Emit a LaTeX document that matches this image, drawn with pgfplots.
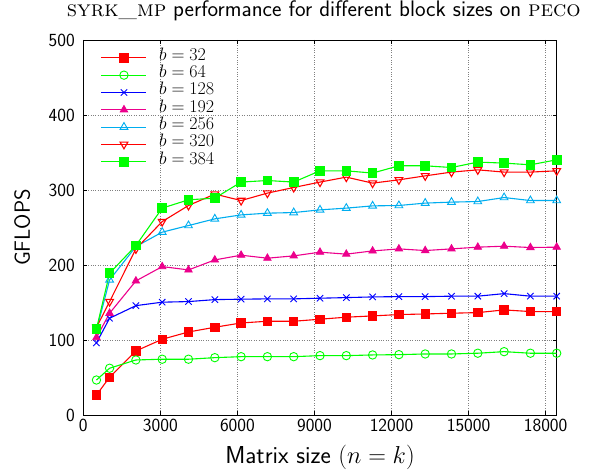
\RequirePackage{fix-cm}
\documentclass[border=0pt]{standalone}
\usepackage{fontspec}
\usepackage{pgfplots}
\pgfplotsset{compat=1.18}
\newcommand{\lgd}{\fontsize{18}{18}\selectfont}

\begin{document}
\begin{tikzpicture}
\useasboundingbox (0,0) rectangle (605pt,470pt);
\begin{axis}[
  at={(83.3pt,54.7pt)}, anchor=south west,
  scale only axis, width=473.4pt, height=375.3pt,
  xmin=0, xmax=18432, ymin=0, ymax=500,
  xtick={0,3000,...,18000}, ytick={0,100,...,500},
  scaled x ticks=false,
  /pgf/number format/1000 sep={},
  /pgf/number format/assume math mode=true,
  ticklabel style={font=\sffamily\fontsize{18.5}{18.5}\selectfont},
  yticklabel style={xshift=-5pt},
  tick align=inside, major tick length=4pt,
  tick style={black, line width=0.6pt},
  axis line style={line width=0.8pt},
  grid=major,
  major grid style={dotted, gray, line width=0.5pt},
  xlabel={\sffamily Matrix size $(n = k)$},
  ylabel={\sffamily GFLOPS},
  xlabel style={at={(axis description cs:0.5,-0.1279)}, anchor=base, font=\fontsize{24.5}{24.5}\selectfont},
  ylabel style={at={(axis description cs:-0.113,0.5)}, anchor=base, font=\fontsize{22}{22}\selectfont},
  title={\fontsize{22.5}{22.5}\selectfont{\rmfamily\scshape syrk\_mp} {\sffamily performance for different block sizes on} {\rmfamily\scshape peco}},
  title style={at={(axis description cs:0.508,1.0466)}, anchor=base, inner sep=0pt},
  legend cell align=left,
  legend style={draw=none, fill=none, inner sep=0pt, row sep=0pt,
    at={(axis description cs:0.0368,0.976)}, anchor=north west,
    nodes={inner sep=1pt, text height=10pt, text depth=5.3pt},
    /tikz/every odd column/.append style={column sep=11pt}},
  legend image code/.code={
    \draw[mark repeat=2, mark phase=2] plot coordinates {(0pt,0pt) (22.5pt,0pt) (45pt,0pt)};
  },
  every axis plot/.append style={line width=1.1pt, mark options={solid, line width=0.9pt}},
]
% b = 32
\addplot[red, mark=square*, mark size=4.2pt] coordinates {
 (512,27) (1024,50.7) (2048,85.7) (3072,101.3) (4096,111) (5120,117.3) (6144,123) (7168,125.3) (8192,125.3)
 (9216,128) (10240,130.7) (11264,132.4) (12288,134.2) (13312,135) (14336,136) (15360,136.8) (16384,140.4) (17408,138.2) (18432,138.2)};
\addlegendentry{\lgd $b = 32$}
% b = 64
\addplot[green, mark=o, mark size=4.2pt] coordinates {
 (512,47) (1024,62.7) (2048,73.7) (3072,74.7) (4096,74.7) (5120,76.8) (6144,78.1) (7168,78.1) (8192,78.1)
 (9216,79.5) (10240,79.5) (11264,80.4) (12288,80.8) (13312,81.7) (14336,81.7) (15360,82.7) (16384,84.8) (17408,82.7) (18432,82.7)};
\addlegendentry{\lgd $b = 64$}
% b = 128
\addplot[blue, mark=x, mark size=4.5pt] coordinates {
 (512,96.5) (1024,129.3) (2048,146.1) (3072,150.7) (4096,151.5) (5120,154.1) (6144,154.7) (7168,155.1) (8192,155.1)
 (9216,156) (10240,156.8) (11264,157.7) (12288,158.1) (13312,158.1) (14336,158.7) (15360,158.7) (16384,162.1) (17408,158.7) (18432,158.7)};
\addlegendentry{\lgd $b = 128$}
% b = 192
\addplot[magenta, mark=triangle*, mark size=4.2pt] coordinates {
 (512,103.5) (1024,136) (2048,179) (3072,198.1) (4096,193.7) (5120,207) (6144,213.3) (7168,209.3) (8192,212.4)
 (9216,217.3) (10240,214.7) (11264,219) (12288,221.7) (13312,219.5) (14336,221.7) (15360,224) (16384,225.3) (17408,223.5) (18432,224)};
\addlegendentry{\lgd $b = 192$}
% b = 256
\addplot[cyan, mark=triangle, mark size=4.5pt] coordinates {
 (512,113) (1024,180.4) (2048,224.8) (3072,244) (4096,252.8) (5120,261.7) (6144,267) (7168,269.3) (8192,270.1)
 (9216,273.7) (10240,276) (11264,279) (12288,279.5) (13312,282.7) (14336,284) (15360,284.8) (16384,290.1) (17408,286.1) (18432,286.1)};
\addlegendentry{\lgd $b = 256$}
% b = 320
\addplot[red, mark=triangle, mark size=4.5pt, mark options={rotate=180}] coordinates {
 (512,117) (1024,151.5) (2048,221.7) (3072,258.1) (4096,279.5) (5120,294.7) (6144,286.1) (7168,296) (8192,303.5)
 (9216,310.7) (10240,317.3) (11264,309.3) (12288,313.7) (13312,319) (14336,324) (15360,327) (16384,324) (17408,324) (18432,325.7)};
\addlegendentry{\lgd $b = 320$}
% b = 384
\addplot[green, mark=square*, mark size=4.3pt] coordinates {
 (512,115) (1024,189.3) (2048,226.1) (3072,276) (4096,287.1) (5120,289.3) (6144,310.7) (7168,312.8) (8192,310.7)
 (9216,325.7) (10240,325.7) (11264,322.7) (12288,332.4) (13312,332.4) (14336,330.1) (15360,337.3) (16384,336) (17408,333.7) (18432,340.4)};
\addlegendentry{\lgd $b = 384$}
\end{axis}
\end{tikzpicture}
\end{document}
